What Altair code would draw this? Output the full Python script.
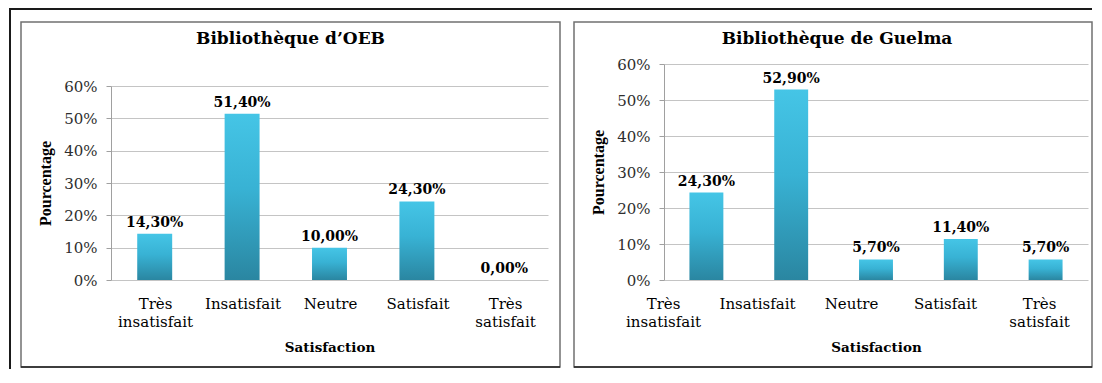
import altair as alt
import pandas as pd

categories = ["Très insatisfait", "Insatisfait", "Neutre", "Satisfait", "Très satisfait"]
oeb_values = [14.3, 51.4, 10.0, 24.3, 0.0]
guelma_values = [24.3, 52.9, 5.7, 11.4, 5.7]
y_ticks = [0, 10, 20, 30, 40, 50, 60]
panel_titles = ["Bibliothèque d’OEB", "Bibliothèque de Guelma"]
x_title = "Satisfaction"
y_title = "Pourcentage"

SERIF = "DejaVu Serif"
gradient = alt.LinearGradient(
    gradient="linear",
    stops=[
        alt.GradientStop(color="#45C5E6", offset=0),
        alt.GradientStop(color="#38B2D4", offset=0.45),
        alt.GradientStop(color="#2A86A1", offset=1),
    ],
    x1=0, x2=0, y1=0, y2=1,
)


def fmt(v):
    return f"{v:.2f}".replace(".", ",") + "%"


def panel(values, title, width, height, y_top, label_range, frame, title_x, outer):
    df = pd.DataFrame({"cat": categories, "val": values, "lbl": [fmt(v) for v in values]})
    base = alt.Chart(df)
    yscale = alt.Scale(domain=[0, 60], range=[height, y_top])
    xband = alt.X("cat:N", sort=categories,
                  scale=alt.Scale(paddingInner=0.6, paddingOuter=0.3), axis=None)
    yaxis = alt.Axis(
        values=y_ticks, labelExpr="datum.value + '%'", title=y_title,
        grid=True, gridColor="#C4C4C4", gridWidth=1, labelOverlap=False,
        domainColor="#A0A0A0", tickColor="#A0A0A0", tickSize=5,
        labelFont=SERIF, labelFontSize=15, labelColor="#2E2E2E", labelPadding=9,
        titleFont="Liberation Serif", titleFontSize=16, titleFontWeight="bold",
        titleColor="black",
        titleX=-66, titleY=(height + y_top) / 2, titleAngle=270,
        titleAlign="center", titleBaseline="middle",
    )
    bars = base.mark_bar(color=gradient).encode(
        x=xband, y=alt.Y("val:Q", scale=yscale, axis=yaxis)
    )
    texts = base.mark_text(font=SERIF, fontSize=14, fontWeight="bold", color="black",
                           baseline="alphabetic", dy=-7).encode(
        x=xband, y=alt.Y("val:Q", scale=yscale, axis=yaxis), text="lbl:N"
    )
    labels = base.mark_point(opacity=0).encode(
        x=alt.X("cat:N", sort=categories,
                scale=alt.Scale(type="point", range=label_range, padding=0),
                axis=alt.Axis(
                    orient="bottom", domain=False, ticks=False, grid=False,
                    labelAngle=0, labelFont=SERIF, labelFontSize=15, labelColor="black",
                    labelPadding=16, labelLineHeight=18, labelOverlap=False,
                    labelExpr="split(datum.label, ' ')",
                    title=x_title, titleFont=SERIF, titleFontSize=13.5,
                    titleFontWeight="bold", titleColor="black",
                    titleX=width / 2, titleY=67, titleBaseline="middle",
                )),
        y=alt.value(height),
    )
    one = alt.Chart(pd.DataFrame({"t": [title]}))
    fx0, fx1, fy0, fy1 = frame
    frame_mark = one.mark_rect(fill=None, stroke="#707070", strokeWidth=1.5).encode(
        x=alt.value(fx0), x2=alt.value(fx1), y=alt.value(fy0), y2=alt.value(fy1)
    )
    frame_bottom = one.mark_rule(color="#202020", strokeWidth=1.5).encode(
        x=alt.value(fx0), x2=alt.value(fx1), y=alt.value(fy1), y2=alt.value(fy1)
    )
    title_mark = one.mark_text(font=SERIF, fontSize=17, fontWeight="bold", color="black",
                               baseline="middle").encode(
        x=alt.value(title_x), y=alt.value(-25), text="t:N"
    )
    layers = [frame_mark, frame_bottom, bars, texts, labels, title_mark]
    for (x0, x1, y0, y1) in outer:
        layers.append(one.mark_rule(color="#1A1A1A", strokeWidth=2).encode(
            x=alt.value(x0), x2=alt.value(x1), y=alt.value(y0), y2=alt.value(y1)))
    return alt.layer(*layers).resolve_scale(x="independent").properties(
        width=width, height=height)


p1 = panel(oeb_values, panel_titles[0], 437, 216, 22, [44, 394],
           (-90, 449, -42, 303), 179.5,
           [(-102, 981, -55, -55), (-101, -101, -55, 305)])
p2 = panel(guelma_values, panel_titles[1], 424, 216, 0, [-1, 375],
           (-90, 428, -42, 303), 173, [])

chart = alt.hconcat(p1, p2, spacing=116, bounds="flush").properties(
    padding=0
).configure_view(stroke=None)

chart.save("out.html", embed_options={"renderer": "svg", "actions": False})
